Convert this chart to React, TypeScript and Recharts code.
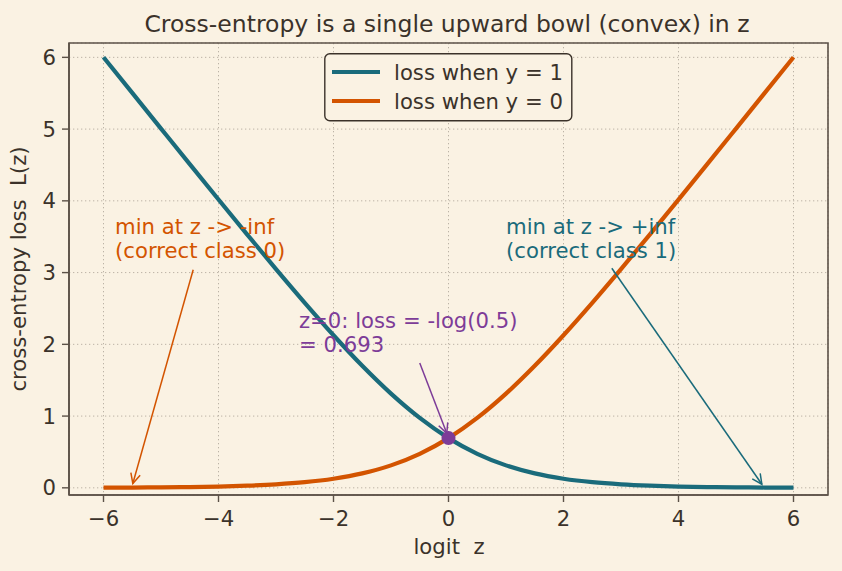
import React from 'react';
import {
  ComposedChart,
  Line,
  XAxis,
  YAxis,
  CartesianGrid,
  ReferenceDot,
  ReferenceLine,
  ReferenceArea,
  Legend,
} from 'recharts';

// ---- data ----
const zValues = [-6, -5.5, -5, -4.5, -4, -3.5, -3, -2.5, -2, -1.5, -1, -0.5, 0, 0.5, 1, 1.5, 2, 2.5, 3, 3.5, 4, 4.5, 5, 5.5, 6];
const lossY1 = [6.002, 5.504, 5.007, 4.511, 4.018, 3.53, 3.049, 2.579, 2.127, 1.701, 1.313, 0.974, 0.693, 0.474, 0.313, 0.201, 0.127, 0.079, 0.049, 0.03, 0.018, 0.011, 0.007, 0.004, 0.002];
const lossY0 = [0.002, 0.004, 0.007, 0.011, 0.018, 0.03, 0.049, 0.079, 0.127, 0.201, 0.313, 0.474, 0.693, 0.974, 1.313, 1.701, 2.127, 2.579, 3.049, 3.53, 4.018, 4.511, 5.007, 5.504, 6.002];

const xTicks = [-6, -4, -2, 0, 2, 4, 6];
const yTicks = [0, 1, 2, 3, 4, 5, 6];
const xDomain = [-6.6, 6.6];
const yDomain = [-0.1, 6.2];

const seriesNames = ['loss when y = 1', 'loss when y = 0'];

const titleText = 'Cross-entropy is a single upward bowl (convex) in z';
const xLabelText = 'logit  z';
const yLabelText = 'cross-entropy loss  L(z)';

// annotations: text lines, text anchor (last-line baseline), arrow from -> to
const annoLines = [
  ['min at z -> -inf', '(correct class 0)'],
  ['min at z -> +inf', '(correct class 1)'],
  ['z=0: loss = -log(0.5)', '= 0.693'],
];
const annoTextAt = [
  { x: -5.8, y: 3.2 },
  { x: 1.0, y: 3.2 },
  { x: -2.6, y: 1.9 },
];
const annoArrowFrom = [
  { x: -4.44, y: 3.04 },
  { x: 2.84, y: 3.06 },
  { x: -0.5, y: 1.74 },
];
const annoArrowTo = [
  { x: -5.49, y: 0.06 },
  { x: 5.45, y: 0.05 },
  { x: -0.03, y: 0.76 },
];
const markPoint = { x: 0, y: 0.693 };

// ---- styles ----
const BG = '#faf2e3';
const TEXT = '#3b322a';
const SPINE = '#5c5248';
const GRID = '#bcb3a6';
const TEAL = '#1a6b7b';
const ORANGE = '#d35400';
const PURPLE = '#7d3c98';
const annoColors = [ORANGE, TEAL, PURPLE];
const FONT = '"DejaVu Sans", sans-serif';
const FS = 21.2;
const LW = 4.2;

const data = zValues.map((z, i) => ({ z, y1: lossY1[i], y0: lossY0[i] }));

const fmt = (v: number) => (v < 0 ? '\u2212' + Math.abs(v) : String(v));

const arrowShape = (color: string) => (props: any) => {
  const { x1, y1, x2, y2 } = props;
  if ([x1, y1, x2, y2].some((v) => typeof v !== 'number' || isNaN(v))) return <g />;
  const ang = Math.atan2(y2 - y1, x2 - x1);
  const L = 11;
  const a = (26 * Math.PI) / 180;
  const p1x = x2 - L * Math.cos(ang - a);
  const p1y = y2 - L * Math.sin(ang - a);
  const p2x = x2 - L * Math.cos(ang + a);
  const p2y = y2 - L * Math.sin(ang + a);
  return (
    <g>
      <line x1={x1} y1={y1} x2={x2} y2={y2} stroke={color} strokeWidth={1.5} />
      <polyline points={`${p1x},${p1y} ${x2},${y2} ${p2x},${p2y}`} fill="none" stroke={color} strokeWidth={1.5} />
    </g>
  );
};

const textShape = (lines: string[], color: string) => (props: any) => {
  const { cx, cy } = props;
  const n = lines.length;
  return (
    <text fontFamily={FONT} fontSize={FS} fill={color} style={{ whiteSpace: 'pre' }}>
      {lines.map((l, i) => (
        <tspan key={i} x={cx} y={cy - (n - 1 - i) * 24}>
          {l}
        </tspan>
      ))}
    </text>
  );
};

const LegendBox = () => (
  <svg width={249} height={69} style={{ display: 'block' }}>
    <rect x={0.8} y={0.8} width={247} height={67} rx={5} ry={5} fill={BG} stroke={TEXT} strokeWidth={1.4} />
    <line x1={8} y1={19} x2={56} y2={19} stroke={TEAL} strokeWidth={LW} />
    <line x1={8} y1={48} x2={56} y2={48} stroke={ORANGE} strokeWidth={LW} />
    <text x={70} y={26.5} fontFamily={FONT} fontSize={FS} fill={TEXT}>
      {seriesNames[0]}
    </text>
    <text x={70} y={55.5} fontFamily={FONT} fontSize={FS} fill={TEXT}>
      {seriesNames[1]}
    </text>
  </svg>
);

export default function App() {
  return (
    <div style={{ position: 'absolute', left: 0, top: 0, width: 842, height: 571, background: BG, overflow: 'hidden' }}>
      <ComposedChart
        width={842}
        height={571}
        data={data}
        margin={{ top: 43, right: 14, bottom: 36, left: 0 }}
        style={{ fontFamily: FONT }}
      >
        <CartesianGrid stroke={GRID} strokeDasharray="1.3 2.7" strokeWidth={1} />
        <XAxis
          dataKey="z"
          type="number"
          domain={xDomain}
          ticks={xTicks}
          allowDataOverflow
          height={40}
          tickFormatter={fmt}
          tick={{ fill: TEXT, fontSize: FS, fontFamily: FONT }}
          tickSize={7}
          tickMargin={9}
          tickLine={{ stroke: SPINE, strokeWidth: 1.4 }}
          axisLine={{ stroke: SPINE, strokeWidth: 1.6 }}
        />
        <YAxis
          type="number"
          domain={yDomain}
          ticks={yTicks}
          allowDataOverflow
          width={69}
          tickFormatter={fmt}
          tick={{ fill: TEXT, fontSize: FS, fontFamily: FONT }}
          tickSize={7}
          tickMargin={6}
          tickLine={{ stroke: SPINE, strokeWidth: 1.4 }}
          axisLine={{ stroke: SPINE, strokeWidth: 1.6 }}
        />
        <ReferenceArea
          x1={xDomain[0]}
          x2={xDomain[1]}
          y1={yDomain[0]}
          y2={yDomain[1]}
          fill="none"
          fillOpacity={0}
          stroke={SPINE}
          strokeWidth={1.6}
        />
        <Line
          type="monotone"
          dataKey="y1"
          name={seriesNames[0]}
          stroke={TEAL}
          strokeWidth={LW}
          dot={false}
          activeDot={false}
          isAnimationActive={false}
        />
        <Line
          type="monotone"
          dataKey="y0"
          name={seriesNames[1]}
          stroke={ORANGE}
          strokeWidth={LW}
          dot={false}
          activeDot={false}
          isAnimationActive={false}
        />
        {annoLines.map((lines, i) => (
          <ReferenceLine
            key={'a' + i}
            segment={[annoArrowFrom[i], annoArrowTo[i]]}
            stroke={annoColors[i]}
            shape={arrowShape(annoColors[i])}
          />
        ))}
        {annoLines.map((lines, i) => (
          <ReferenceDot
            key={'t' + i}
            x={annoTextAt[i].x}
            y={annoTextAt[i].y}
            r={0}
            shape={textShape(lines, annoColors[i])}
          />
        ))}
        <ReferenceDot x={markPoint.x} y={markPoint.y} r={7} fill={PURPLE} stroke={PURPLE} strokeWidth={0} />
        <Legend
          layout="horizontal"
          verticalAlign="middle"
          align="center"
          content={() => <LegendBox />}
          wrapperStyle={{ position: 'absolute', top: 53, left: 324, width: 249, height: 69 }}
        />
      </ComposedChart>
      <svg
        width={842}
        height={571}
        style={{ position: 'absolute', left: 0, top: 0, pointerEvents: 'none' }}
      >
        <text x={447} y={32.3} textAnchor="middle" fontFamily={FONT} fontSize={23.5} fill={TEXT}>
          {titleText}
        </text>
        <text
          x={449}
          y={554}
          textAnchor="middle"
          fontFamily={FONT}
          fontSize={FS}
          fill={TEXT}
          style={{ whiteSpace: 'pre' }}
        >
          {xLabelText}
        </text>
        <text
          x={0}
          y={0}
          transform="translate(26,269) rotate(-90)"
          textAnchor="middle"
          fontFamily={FONT}
          fontSize={FS}
          fill={TEXT}
          style={{ whiteSpace: 'pre' }}
        >
          {yLabelText}
        </text>
      </svg>
    </div>
  );
}
